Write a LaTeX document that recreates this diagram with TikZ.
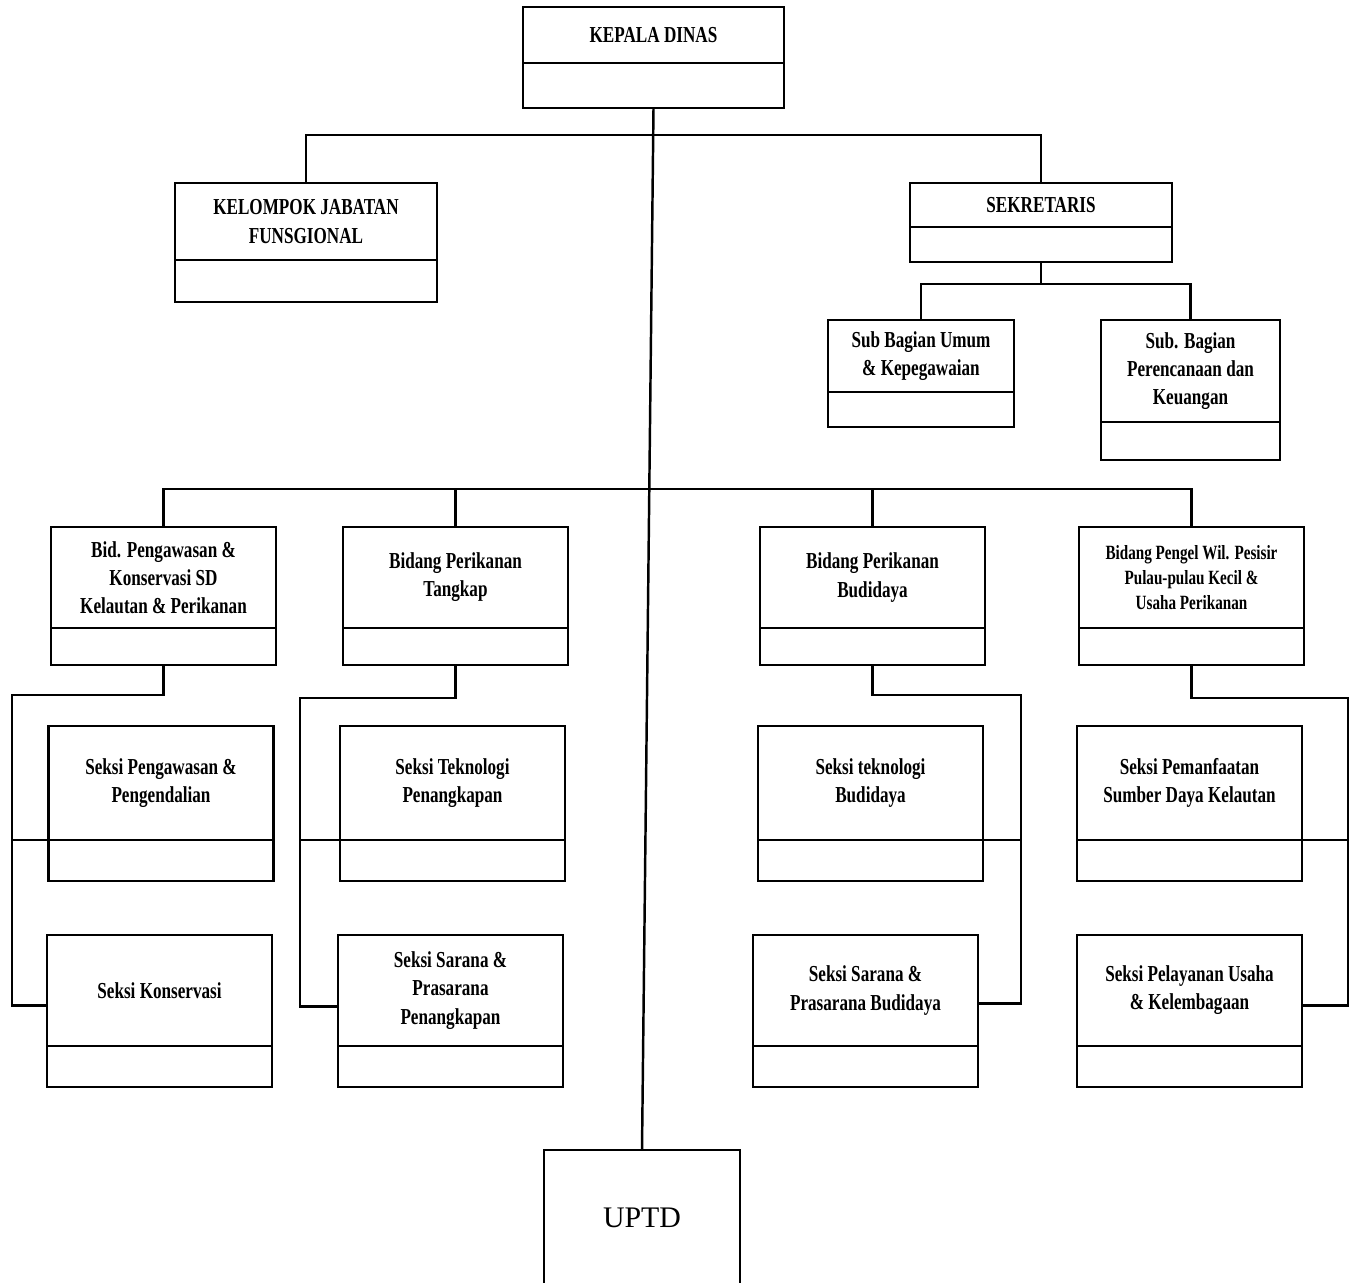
\documentclass[tikz,border=0pt]{standalone}
\usepackage{fontspec}
\setmainfont{Liberation Serif}
\newfontfamily\unitfont[FakeStretch=0.75]{Liberation Serif}
\usetikzlibrary{positioning}

\begin{document}
\begin{tikzpicture}[
  x=0.02cm, y=-0.02cm,
  unit/.style={draw, line width=1.4pt, outer sep=0pt, minimum width=4.5cm, align=center, inner sep=2pt, font=\unitfont\bfseries\fontsize{13}{16}\selectfont},
  foot/.style={draw, line width=1.4pt, outer sep=0pt, minimum width=4.5cm},
  link/.style={line width=1.4pt}
]
\useasboundingbox (0,0) rectangle (1355,1282);
\node[unit, minimum width=5.22cm, minimum height=1.12cm] (kd) at (653.5,35) {KEPALA DINAS};
\node[foot, minimum width=5.22cm, minimum height=0.9cm, below=0pt of kd] (kd-f) {};
\node[unit, minimum width=5.24cm, minimum height=1.54cm] (kjf) at (306,221.5) {KELOMPOK JABATAN\\FUNSGIONAL};
\node[foot, minimum width=5.24cm, minimum height=0.84cm, below=0pt of kjf] (kjf-f) {};
\node[unit, minimum width=5.24cm, minimum height=0.88cm] (sek) at (1041,205) {SEKRETARIS};
\node[foot, minimum width=5.24cm, minimum height=0.7cm, below=0pt of sek] (sek-f) {};
\node[unit, minimum width=3.72cm, minimum height=1.44cm] (sbu) at (921,356) {Sub Bagian Umum\\\& Kepegawaian};
\node[foot, minimum width=3.72cm, minimum height=0.7cm, below=0pt of sbu] (sbu-f) {};
\node[unit, minimum width=3.58cm, minimum height=2.04cm] (sbp) at (1190.5,371) {Sub. Bagian\\Perencanaan dan\\Keuangan};
\node[foot, minimum width=3.58cm, minimum height=0.76cm, below=0pt of sbp] (sbp-f) {};
\node[unit, minimum height=2.02cm] (b1) at (163.5,577.5) {Bid. Pengawasan \&\\Konservasi SD\\Kelautan \& Perikanan};
\node[foot, minimum height=0.74cm, below=0pt of b1] (b1-f) {};
\node[unit, minimum height=2.02cm] (b2) at (455.5,577.5) {Bidang Perikanan\\Tangkap};
\node[foot, minimum height=0.74cm, below=0pt of b2] (b2-f) {};
\node[unit, minimum height=2.02cm] (b3) at (872.5,577.5) {Bidang Perikanan\\Budidaya};
\node[foot, minimum height=0.74cm, below=0pt of b3] (b3-f) {};
\node[unit, minimum height=2.02cm, font=\unitfont\bfseries\fontsize{11.5}{14}\selectfont] (b4) at (1191.5,577.5) {Bidang Pengel Wil. Pesisir\\Pulau-pulau Kecil \&\\Usaha Perikanan};
\node[foot, minimum height=0.74cm, below=0pt of b4] (b4-f) {};
\node[unit, minimum height=2.28cm] (s1a) at (161,783) {Seksi Pengawasan \&\\Pengendalian};
\node[foot, minimum height=0.82cm, below=0pt of s1a] (s1a-f) {};
\node[unit, minimum height=2.28cm] (s1b) at (452.5,783) {Seksi Teknologi\\Penangkapan};
\node[foot, minimum height=0.82cm, below=0pt of s1b] (s1b-f) {};
\node[unit, minimum height=2.28cm] (s1c) at (870.5,783) {Seksi teknologi\\Budidaya};
\node[foot, minimum height=0.82cm, below=0pt of s1c] (s1c-f) {};
\node[unit, minimum height=2.28cm] (s1d) at (1189.5,783) {Seksi Pemanfaatan\\Sumber Daya Kelautan};
\node[foot, minimum height=0.82cm, below=0pt of s1d] (s1d-f) {};
\node[unit, minimum height=2.22cm] (s2a) at (159.5,990.5) {Seksi Konservasi};
\node[foot, minimum height=0.82cm, below=0pt of s2a] (s2a-f) {};
\node[unit, minimum height=2.22cm] (s2b) at (450.5,990.5) {Seksi Sarana \&\\Prasarana\\Penangkapan};
\node[foot, minimum height=0.82cm, below=0pt of s2b] (s2b-f) {};
\node[unit, minimum height=2.22cm] (s2c) at (865.5,990.5) {Seksi Sarana \&\\Prasarana Budidaya};
\node[foot, minimum height=0.82cm, below=0pt of s2c] (s2c-f) {};
\node[unit, minimum height=2.22cm] (s2d) at (1189.5,990.5) {Seksi Pelayanan Usaha\\\& Kelembagaan};
\node[foot, minimum height=0.82cm, below=0pt of s2d] (s2d-f) {};
\node[minimum width=3.92cm, minimum height=2.72cm, outer sep=0pt, font=\fontsize{17}{20}\selectfont] (uptd) at (642,1218) {UPTD};
\draw[link] (uptd.south west) |- (uptd.north) -| (uptd.south east);
\coordinate (bus1) at (653,135);
\coordinate (bus2) at (1041,284);
\coordinate (bus3) at (653,489);
\draw[link] (kd-f.south) -- (uptd.north);
\draw[link] (kjf.north) |- (bus1) -| (sek.north);
\draw[link] (sek-f.south) -- (bus2);
\draw[link] (sbu.north) |- (bus2) -| (sbp.north);
\draw[link] (b1.north) |- (bus3) -| (b4.north);
\draw[link] (b2.north) -- (b2.north |- bus3);
\draw[link] (b3.north) -- (b3.north |- bus3);
\coordinate (r1) at (12,695);
\draw[link] (b1-f.south) |- (r1) |- ([yshift=-0.3cm]s2a.west);
\draw[link] (r1 |- s1a.south) -- (s1a.south west);
\coordinate (r2) at (300,698);
\draw[link] (b2-f.south) |- (r2) |- ([yshift=-0.32cm]s2b.west);
\draw[link] (r2 |- s1b.south) -- (s1b.south west);
\coordinate (r3) at (1021,695);
\draw[link] (b3-f.south) |- (r3) |- ([yshift=-0.26cm]s2c.east);
\draw[link] (r3 |- s1c.south) -- (s1c.south east);
\coordinate (r4) at (1348,698);
\draw[link] (b4-f.south) |- (r4) |- ([yshift=-0.3cm]s2d.east);
\draw[link] (r4 |- s1d.south) -- (s1d.south east);
\end{tikzpicture}
\end{document}
